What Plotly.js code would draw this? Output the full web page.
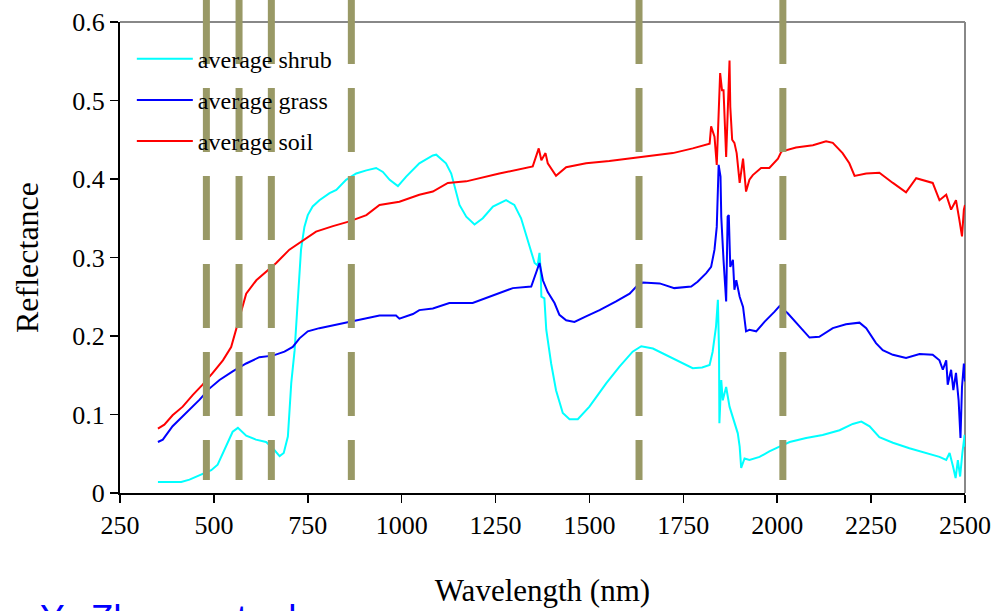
<!DOCTYPE html>
<html>
<head>
<meta charset="utf-8">
<script src="https://cdn.plot.ly/plotly-3.0.1.min.js"></script>
<style>html,body{margin:0;padding:0;background:#fff;}#chart{width:995px;height:611px;}</style>
</head>
<body>
<div id="chart"></div>
<script>
// ---- data ----
const shrubWl = [351,413,435,462,493,510,533,550,564,586,612,639,657,675,686,697,701,706,715,723,732,741,750,763,781,808,826,852,879,906,932,950,968,990,1012,1047,1083,1092,1118,1132,1141,1154,1172,1194,1216,1243,1278,1300,1318,1336,1354,1362,1367,1370,1372,1380,1385,1398,1411,1429,1447,1469,1500,1545,1580,1615,1638,1669,1704,1731,1775,1800,1820,1828,1837,1842,1845,1846,1851,1855,1864,1873,1882,1895,1900,1904,1913,1926,1953,1979,2006,2033,2077,2121,2166,2201,2224,2246,2272,2308,2352,2397,2432,2450,2459,2468,2475,2481,2487,2493,2499,2500];
const shrubRefl = [0.014,0.014,0.017,0.023,0.029,0.036,0.059,0.078,0.083,0.073,0.068,0.065,0.057,0.047,0.051,0.072,0.102,0.14,0.182,0.246,0.31,0.339,0.354,0.365,0.373,0.382,0.386,0.399,0.407,0.411,0.414,0.409,0.399,0.391,0.403,0.42,0.43,0.431,0.42,0.407,0.39,0.367,0.352,0.342,0.35,0.365,0.373,0.367,0.35,0.322,0.293,0.29,0.306,0.284,0.25,0.248,0.208,0.165,0.131,0.102,0.094,0.094,0.11,0.14,0.161,0.18,0.187,0.184,0.176,0.169,0.159,0.16,0.163,0.18,0.212,0.246,0.182,0.089,0.144,0.118,0.135,0.11,0.097,0.076,0.059,0.032,0.044,0.042,0.046,0.053,0.059,0.065,0.07,0.074,0.08,0.088,0.091,0.085,0.071,0.064,0.057,0.051,0.046,0.042,0.051,0.034,0.019,0.042,0.021,0.051,0.074,0.059];

const grassWl = [351,364,390,426,462,488,515,550,586,621,657,688,710,728,750,781,834,887,941,985,994,1030,1047,1083,1127,1189,1243,1296,1345,1358,1367,1376,1389,1407,1420,1438,1460,1491,1527,1571,1607,1625,1642,1687,1726,1771,1788,1811,1824,1833,1839,1842,1844,1849,1851,1857,1864,1868,1871,1875,1882,1886,1891,1900,1909,1917,1926,1944,1966,1993,2006,2028,2059,2086,2112,2148,2183,2219,2237,2263,2281,2308,2343,2379,2414,2432,2441,2450,2454,2463,2469,2476,2483,2488,2492,2497,2500];
const grassRefl = [0.065,0.068,0.085,0.102,0.119,0.133,0.144,0.155,0.165,0.173,0.175,0.18,0.186,0.197,0.206,0.21,0.215,0.22,0.226,0.226,0.222,0.228,0.233,0.235,0.242,0.242,0.252,0.261,0.263,0.28,0.293,0.271,0.256,0.242,0.227,0.22,0.218,0.225,0.233,0.244,0.254,0.263,0.268,0.267,0.261,0.263,0.269,0.28,0.288,0.31,0.339,0.386,0.418,0.403,0.352,0.297,0.244,0.352,0.354,0.288,0.297,0.259,0.271,0.25,0.237,0.206,0.208,0.206,0.218,0.231,0.238,0.229,0.212,0.198,0.199,0.21,0.215,0.217,0.21,0.191,0.182,0.176,0.172,0.177,0.176,0.169,0.157,0.169,0.138,0.157,0.131,0.153,0.118,0.07,0.135,0.165,0.142];

const soilWl = [351,368,390,417,444,470,497,524,546,559,573,586,613,639,666,701,737,772,817,861,906,941,994,1047,1083,1123,1172,1260,1349,1358,1365,1372,1383,1389,1411,1438,1491,1553,1633,1722,1775,1820,1824,1833,1839,1845,1848,1853,1857,1864,1868,1873,1875,1880,1886,1892,1900,1909,1917,1926,1935,1957,1979,2002,2011,2050,2095,2130,2148,2174,2192,2206,2237,2272,2308,2343,2370,2397,2414,2432,2450,2463,2476,2485,2492,2497,2500];
const soilRefl = [0.082,0.087,0.099,0.11,0.125,0.138,0.153,0.169,0.186,0.208,0.229,0.254,0.271,0.282,0.293,0.31,0.322,0.333,0.34,0.346,0.354,0.367,0.371,0.38,0.384,0.395,0.397,0.407,0.416,0.428,0.439,0.424,0.433,0.42,0.404,0.415,0.42,0.423,0.428,0.433,0.439,0.445,0.467,0.454,0.418,0.492,0.535,0.513,0.513,0.428,0.492,0.551,0.492,0.45,0.446,0.433,0.395,0.426,0.384,0.399,0.405,0.414,0.414,0.426,0.435,0.44,0.443,0.448,0.446,0.433,0.42,0.404,0.407,0.408,0.395,0.383,0.401,0.397,0.395,0.373,0.38,0.361,0.373,0.348,0.327,0.361,0.367];

const seriesNames = ["average shrub", "average grass", "average soil"];
const bandCenters = [480, 567, 653, 866, 1632, 2015];
const xTicks = [250,500,750,1000,1250,1500,1750,2000,2250,2500];
const yTicks = [0,0.1,0.2,0.3,0.4,0.5,0.6];
const yTickText = ["0","0.1","0.2","0.3","0.4","0.5","0.6"];

// ---- chart ----
const serif = "'Liberation Serif', 'Times New Roman', serif";
const traces = [
  {x: shrubWl, y: shrubRefl, name: seriesNames[0], color: "#00ffff"},
  {x: grassWl, y: grassRefl, name: seriesNames[1], color: "#0000ff"},
  {x: soilWl, y: soilRefl, name: seriesNames[2], color: "#ff0000"}
].map((s, i) => ({
  type: "scatter", mode: "lines", x: s.x, y: s.y, name: s.name,
  legendgroup: "g" + i,
  line: {color: s.color, width: 2}
}));

const shapes = bandCenters.map(b => ({
  type: "line", xref: "x", yref: "paper",
  x0: b, x1: b, y0: 1.0467, y1: 0.0276,
  line: {color: "#999966", width: 7, dash: "64px,24px"},
  layer: "above"
}));
// gray top and right frame
shapes.push({type: "line", xref: "paper", yref: "paper", x0: 0, x1: 1, y0: 1, y1: 1, line: {color: "#888888", width: 2}, layer: "below"});
shapes.push({type: "line", xref: "paper", yref: "paper", x0: 1, x1: 1, y0: 0, y1: 1, line: {color: "#888888", width: 2}, layer: "below"});

const layout = {
  width: 995, height: 611,
  margin: {l: 120, r: 30, t: 22, b: 118},
  paper_bgcolor: "#ffffff", plot_bgcolor: "#ffffff",
  font: {family: serif, color: "#000000"},
  showlegend: true,
  legend: {
    x: 0.014, y: 0.969, xanchor: "left", yanchor: "top",
    bgcolor: "rgba(0,0,0,0)", borderwidth: 0,
    font: {family: serif, size: 24, color: "#000"},
    tracegroupgap: 7, itemwidth: 56
  },
  xaxis: {
    range: [250, 2500], tickmode: "array", tickvals: xTicks,
    ticks: "outside", ticklen: 8, tickwidth: 1.5, tickcolor: "#000",
    showline: true, linecolor: "#000", linewidth: 2,
    showgrid: false, zeroline: false,
    tickfont: {family: serif, size: 26, color: "#000"},
    title: {text: "Wavelength (nm)", font: {family: serif, size: 31, color: "#000"}, standoff: 40}
  },
  yaxis: {
    range: [0, 0.6], tickmode: "array", tickvals: yTicks, ticktext: yTickText,
    ticks: "outside", ticklen: 8, tickwidth: 1.5, tickcolor: "#000",
    showline: true, linecolor: "#000", linewidth: 2,
    showgrid: false, zeroline: false,
    tickfont: {family: serif, size: 26, color: "#000"},
    title: {text: "Reflectance", font: {family: serif, size: 32, color: "#000"}, standoff: 24}
  },
  shapes: shapes,
  annotations: [{
    text: "Y.  Zhang  et  al.", xref: "paper", yref: "paper",
    x: -0.097, y: -0.219, xanchor: "left", yanchor: "top", showarrow: false,
    font: {family: "Arial, 'Liberation Sans', sans-serif", size: 37, color: "#0000ff"}
  }]
};

Plotly.newPlot("chart", traces, layout, {displayModeBar: false, staticPlot: true});
</script>
</body>
</html>
